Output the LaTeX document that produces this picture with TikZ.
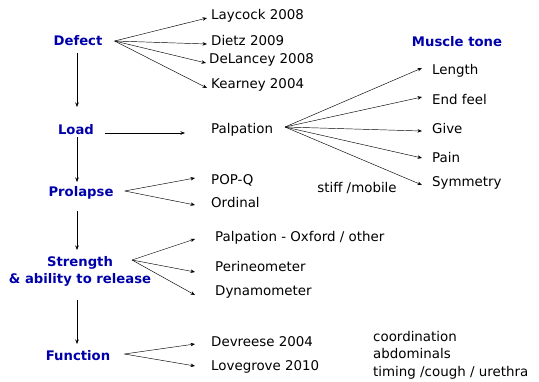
\documentclass[tikz,border=0pt]{standalone}
\usepackage{fontspec}
\setmainfont{DejaVu Sans}
\usetikzlibrary{arrows.meta}
\definecolor{hdblue}{RGB}{0,0,170}
\tikzset{
  hd/.style={font=\fontsize{13.2}{17}\selectfont\bfseries, text=hdblue, align=center, inner sep=1pt},
  lbl/.style={font=\fontsize{13.4}{17.5}\selectfont, anchor=west, inner xsep=4pt, inner ysep=1pt},
  arr/.style={-{Stealth[length=4.5pt,width=3.5pt]}, line width=0.45pt},
}
\begin{document}
\begin{tikzpicture}[x=1pt,y=-1pt]
\useasboundingbox (0,0) rectangle (539,381);
% left column
\node[hd] (def) at (78,41) {Defect};
\node[hd] (load) at (76,130) {Load};
\node[hd] (pro) at (81,193) {Prolapse};
\node[hd] (str) at (80,271) {Strength\\\& ability to release};
\node[hd] (fun) at (78,356) {Function};
\node[hd] (mt) at (457,42) {Muscle tone};
% right texts
\node[lbl] (lay) at (207,16) {Laycock 2008};
\node[lbl] (die) at (207,41) {Dietz 2009};
\node[lbl] (del) at (205,60) {DeLancey 2008};
\node[lbl] (kea) at (207,85) {Kearney 2004};
\node[lbl] (pal) at (207,130) {Palpation};
\node[lbl] (len) at (428,71) {Length};
\node[lbl] (end) at (428,100) {End feel};
\node[lbl] (giv) at (428,129) {Give};
\node[lbl] (pain) at (428,158) {Pain};
\node[lbl] (sym) at (428,183) {Symmetry};
\node[lbl, anchor=center, inner xsep=1pt] (stf) at (357,188) {stiff /mobile};
\node[lbl] (pop) at (207,180) {POP-Q};
\node[lbl] (ord) at (207,203) {Ordinal};
\node[lbl] (pox) at (211,238) {Palpation - Oxford / other};
\node[lbl] (per) at (211,266) {Perineometer};
\node[lbl] (dyn) at (211,292) {Dynamometer};
\node[lbl] (dev) at (207,342) {Devreese 2004};
\node[lbl] (lov) at (207,367) {Lovegrove 2010};
\node[lbl, align=left, inner xsep=1pt] (crd) at (372,355) {coordination\\abdominals\\timing /cough / urethra};
% coordinates for arrow origins
\coordinate (dS) at ([xshift=11pt]def.east);
\coordinate (pS) at ([xshift=10pt,yshift=2pt]pro.east);
\coordinate (sS) at (132,260);
\coordinate (fS) at ([xshift=13pt,yshift=2pt]fun.east);
\coordinate (paS) at (285,127);
% vertical arrows
\draw[arr] (77,53) -- (77,107);
\draw[arr] (77,137) -- (77,182);
\draw[arr] (77,211) -- (77,250);
\draw[arr] (77,300) -- (77,344);
% defect fan
\draw[arr] (dS) -- ([yshift=-2pt]lay.west);
\draw[arr] (dS) -- ([yshift=-3pt]die.west);
\draw[arr] (dS) -- ([xshift=1pt,yshift=-3pt]del.west);
\draw[arr] (dS) -- ([yshift=-3pt]kea.west);
% load
\draw[arr] ([xshift=10pt,yshift=-3pt]load.east) -- ([xshift=-22pt,yshift=-3pt]pal.west);
% palpation fan
\draw[arr] (paS) -- ([xshift=-6pt,yshift=3pt]len.west);
\draw[arr] (paS) -- ([xshift=-6pt,yshift=3pt]end.west);
\draw[arr] (paS) -- ([xshift=-6pt,yshift=-2pt]giv.west);
\draw[arr] (paS) -- ([xshift=-6pt]pain.west);
\draw[arr] (paS) -- ([xshift=-6pt,yshift=-2pt]sym.west);
% prolapse
\draw[arr] (pS) -- ([xshift=-12pt,yshift=2pt]pop.west);
\draw[arr] (pS) -- ([xshift=-12pt,yshift=-2pt]ord.west);
% strength
\draw[arr] (sS) -- ([xshift=-16pt,yshift=-1pt]pox.west);
\draw[arr] (sS) -- ([xshift=-16pt,yshift=-6pt]per.west);
\draw[arr] (sS) -- ([xshift=-16pt,yshift=-3pt]dyn.west);
% function
\draw[arr] (fS) -- ([xshift=-12pt,yshift=-2pt]dev.west);
\draw[arr] (fS) -- ([xshift=-12pt,yshift=1pt]lov.west);
\end{tikzpicture}
\end{document}
